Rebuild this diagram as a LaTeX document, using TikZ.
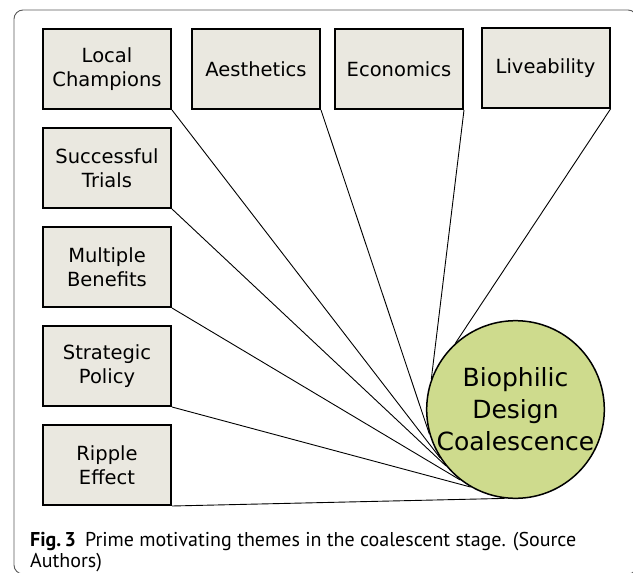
\documentclass[tikz,border=0pt]{standalone}
\usepackage{fontspec}
\setmainfont{DejaVu Sans}
\newfontfamily\capfont{PT Sans}
\definecolor{boxfill}{RGB}{234,232,224}
\definecolor{circfill}{RGB}{206,219,141}
\definecolor{framegray}{RGB}{90,90,90}
\begin{document}
\begin{tikzpicture}[x=1pt,y=-1pt,
  theme/.style={draw=black, line width=2pt, fill=boxfill, minimum width=128pt, minimum height=80pt, inner sep=0pt, align=center, font=\fontsize{19.5}{24}\selectfont},
  link/.style={draw=black, line width=0.9pt},
  hub/.style={circle, draw=black, line width=1.5pt, fill=circfill, minimum size=177pt, inner sep=0pt, align=center, font=\fontsize{25}{32}\selectfont},
  captext/.style={anchor=base west, inner sep=0pt, font=\capfont\fontsize{20}{24}\selectfont}]
\useasboundingbox (0,0) rectangle (633,573);
\draw[framegray, line width=0.9pt, rounded corners=9pt] (14,10) rectangle (637,574);
\node[theme] (lc) at (107,69) {Local\\Champions};
\node[theme] (ae) at (256,69) {Aesthetics};
\node[theme] (ec) at (399,69) {Economics};
\node[theme] (lv) at (545.5,68) {Liveability};
\node[theme] (st) at (107,168) {Successful\\Trials};
\node[theme] (mb) at (107,267) {Multiple\\Benefits};
\node[theme] (sp) at (107,366) {Strategic\\Policy};
\node[theme] (re) at (107,465) {Ripple\\Effect};
\node[hub] (bd) at (515.5,409.5) {Biophilic\\Design\\Coalescence};
\draw[link] (lv.south east) -- (bd.132);
\draw[link] (ec.south east) -- (bd.160);
\draw[link] (ae.south east) -- (bd.196);
\draw[link] (lc.south east) -- (bd.213);
\draw[link] (st.south east) -- (bd.219);
\draw[link] (mb.south east) -- (bd.232);
\draw[link] (sp.south east) -- (bd.240.5);
\draw[link] (re.south east) -- (bd.263);
\node[captext] (cap1) at (30,546) {\textbf{Fig.\,3}\hspace{0.45em}Prime motivating themes in the coalescent stage. (Source};
\node[captext] (cap2) at (30,567) {Authors)};
\end{tikzpicture}
\end{document}
